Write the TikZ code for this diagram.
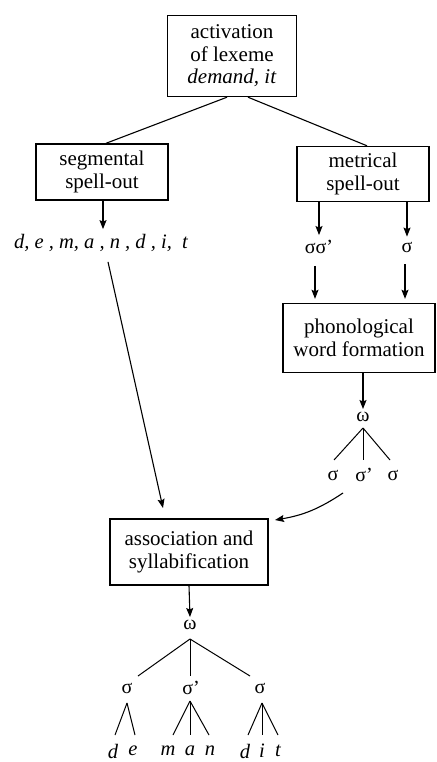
\documentclass[tikz,border=0pt]{standalone}
\usepackage{fontspec}
\setmainfont{Liberation Serif}
\usetikzlibrary{arrows.meta,calc}
\begin{document}
\begin{tikzpicture}[x=1pt,y=-1pt,
  procbox/.style={draw,line width=1.4pt,align=center,inner sep=0pt,
    font=\fontsize{21}{22.5}\selectfont},
  sym/.style={inner sep=0pt,font=\fontsize{20}{22}\selectfont},
  leaf/.style={inner sep=0pt,font=\fontsize{20.5}{22}\selectfont\itshape},
  link/.style={line width=1.1pt},
  branch/.style={line width=1pt},
  flow/.style={line width=1.1pt,-{Stealth[length=9pt,width=7pt,inset=1.5pt]}}]
\useasboundingbox (0,0) rectangle (436,762);

% process boxes
\node[procbox,minimum width=129pt,minimum height=81pt] (act) at (232,56)
  {activation\\of lexeme\\\textit{demand, it}};
\node[procbox,minimum width=132pt,minimum height=56pt] (seg) at (102,172)
  {segmental\\spell-out};
\node[procbox,minimum width=132pt,minimum height=55pt] (met) at (363,174)
  {metrical\\spell-out};
\node[procbox,minimum width=152pt,minimum height=69pt] (pwf) at (359,338)
  {phonological\\word formation};
\node[procbox,minimum width=158pt,minimum height=66pt] (assoc) at (189,552)
  {association and\\syllabification};

% lexeme to the two spell-out processes
\draw[link] ($(act.south)+(-5,0)$) -- ($(seg.north)+(4,0)$);
\draw[link] ($(act.south)+(16,0)$) -- ($(met.north)+(4,0)$);

% segmental branch
\node[leaf] (segs) at (101,243) {d, e , m, a , n , d , i,\ \ t};
\draw[flow] ($(seg.south)+(1,0)$) -- ($(segs.north)+(2,-5)$);
\coordinate (segin) at (163,508);
\draw[flow] ($(segs.south)+(7,10)$) -- (segin);

% metrical branch
\node[sym] (ss) at (319,247) {σσ’};
\node[sym] (s1) at (407,247) {σ};
\draw[flow] (met.south -| ss) -- ($(ss.north)+(0,-5)$);
\draw[flow] (met.south -| s1) -- ($(s1.north)+(0,-5)$);
\draw[flow] ($(ss.south)+(-4,12)$) -- ($(pwf.north -| ss)+(-4,-4)$);
\draw[flow] ($(s1.south)+(-2,12)$) -- ($(pwf.north -| s1)+(-2,-4)$);

% phonological word
\node[sym] (w1) at (363,417) {ω};
\draw[flow] ($(pwf.south)+(4,0)$) -- ($(w1.north)+(0,-3)$);
\coordinate (w1top) at (363,428);
\node[sym] (p1) at (333,475) {σ};
\node[sym] (p2) at (364,475) {σ’};
\node[sym] (p3) at (393,475) {σ};
\draw[branch] (w1top) -- (334,460);
\draw[branch] (w1top) -- (363,460);
\draw[branch] (w1top) -- (390,460);
\coordinate (pwout) at (343,493);
\coordinate (associn) at (275,520);
\draw[flow] (pwout) to[bend left=12] (associn);

% syllabified output
\node[sym] (w2) at (190,625) {ω};
\draw[flow] (assoc.south) -- ($(w2.north)+(0,-3)$);
\coordinate (w2top) at (190,639);
\node[sym] (q1) at (127,688) {σ};
\node[sym] (q2) at (191,688) {σ’};
\node[sym] (q3) at (260,688) {σ};
\draw[branch] (w2top) -- (138,676);
\draw[branch] (w2top) -- (190,676);
\draw[branch] (w2top) -- (250,676);

\node[leaf] (l1) at (113,751) {d};
\node[leaf] (l2) at (133,751) {e};
\node[leaf] (l3) at (168,751) {m};
\node[leaf] (l4) at (190,751) {a};
\node[leaf] (l5) at (210,751) {n};
\node[leaf] (l6) at (245,751) {d};
\node[leaf] (l7) at (262,751) {i};
\node[leaf] (l8) at (278,751) {t};

\coordinate (q1b) at (127,703);
\coordinate (q2b) at (190,701);
\coordinate (q3b) at (262,703);
\draw[branch] (q1b) -- (115,735);
\draw[branch] (q1b) -- (135,735);
\draw[branch] (q2b) -- (173,735);
\draw[branch] (q2b) -- (190,735);
\draw[branch] (q2b) -- (209,735);
\draw[branch] (q3b) -- (248,735);
\draw[branch] (q3b) -- (262,735);
\draw[branch] (q3b) -- (278,735);
\end{tikzpicture}
\end{document}
